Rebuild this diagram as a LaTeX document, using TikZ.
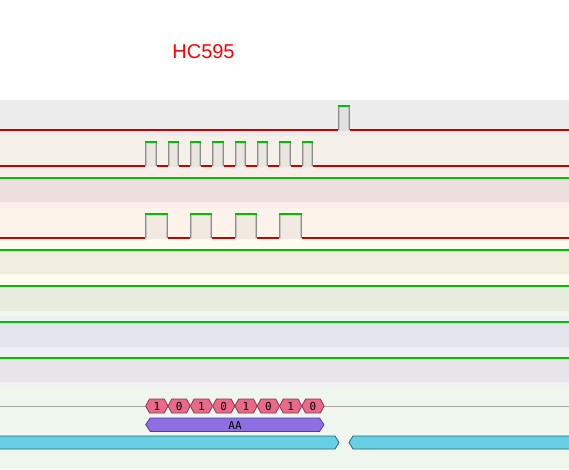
\documentclass[tikz,border=0pt]{standalone}
\usepackage{fontspec}
\setmainfont{Liberation Sans}
\newfontfamily\monofont{DejaVu Sans Mono}
\definecolor{sigred}{HTML}{C80000}
\definecolor{siggreen}{HTML}{00BE00}
\definecolor{edgegray}{HTML}{8C8C8C}
\definecolor{edgelight}{HTML}{C4C4C4}
\definecolor{hexfill}{HTML}{E8698A}
\definecolor{hexdraw}{HTML}{8A3552}
\definecolor{purfill}{HTML}{8E6FE2}
\definecolor{purdraw}{HTML}{4E3C9E}
\definecolor{cyfill}{HTML}{68D0E4}
\definecolor{cydraw}{HTML}{2C6676}
\definecolor{busline}{HTML}{A8A8A8}
\tikzset{
  lowline/.style={draw=sigred, line width=1.2pt},
  highline/.style={draw=siggreen, line width=1.2pt},
  hexcell/.style={fill=hexfill, draw=hexdraw, line width=0.8pt},
  purbar/.style={fill=purfill, draw=purdraw, line width=0.8pt},
  cybar/.style={fill=cyfill, draw=cydraw, line width=0.8pt},
  digit/.style={font=\monofont\fontsize{11}{12}\selectfont, inner sep=0pt, text=black},
  title/.style={font=\fontsize{20}{24}\selectfont, text=red, inner sep=0pt}
}
\newcommand{\mypulse}[5]{% x1, x2, ytop, ybot, fillcolor
  \fill[#5] (#1,#3) rectangle (#2,#4+0.7);
  \draw[edgelight, line width=1pt] (#1+1.5,#3) -- (#1+1.5,#4);
  \draw[edgelight, line width=1pt] (#2-1.5,#3) -- (#2-1.5,#4);
  \draw[edgegray, line width=1pt] (#1+0.5,#3) -- (#1+0.5,#4);
  \draw[edgegray, line width=1pt] (#2-0.5,#3) -- (#2-0.5,#4);
  \draw[highline] (#1,#3) -- (#2,#3);
}
\begin{document}
\begin{tikzpicture}[x=1pt,y=-1pt]
\useasboundingbox (0,0) rectangle (569,469);
\fill[white] (0,0) rectangle (569,469);
% row backgrounds
\fill[color={rgb,255:red,236;green,236;blue,236}] (0,100) rectangle (569,136);
\fill[color={rgb,255:red,245;green,240;blue,234}] (0,136) rectangle (569,172);
\fill[color={rgb,255:red,252;green,237;blue,235}] (0,171) rectangle (569,208);
\fill[color={rgb,255:red,238;green,223;blue,223}] (0,178) rectangle (569,202);
\fill[color={rgb,255:red,254;green,243;blue,234}] (0,208) rectangle (569,239);
\fill[color={rgb,255:red,254;green,252;blue,238}] (0,239) rectangle (569,280);
\fill[color={rgb,255:red,241;green,238;blue,224}] (0,250) rectangle (569,274);
\fill[color={rgb,255:red,242;green,248;blue,234}] (0,280) rectangle (569,316);
\fill[color={rgb,255:red,254;green,252;blue,238}] (0,280) rectangle (569,286);
\fill[color={rgb,255:red,231;green,236;blue,225}] (0,286) rectangle (569,311);
\fill[color={rgb,255:red,238;green,240;blue,246}] (0,316) rectangle (569,352);
\fill[color={rgb,255:red,227;green,230;blue,236}] (0,322) rectangle (569,347);
\fill[color={rgb,255:red,243;green,241;blue,245}] (0,352) rectangle (569,388);
\fill[color={rgb,255:red,232;green,229;blue,234}] (0,358) rectangle (569,382);
\fill[color={rgb,255:red,238;green,246;blue,238}] (0,388) rectangle (569,469);
% title
\node[title] (ttl) at (203.5,51.5) {HC595};
% row 1
\draw[lowline] (0,130) -- (338.3,130);
\draw[lowline] (349.5,130) -- (569,130);
\mypulse{338.3}{349.5}{106}{130}{color={rgb,255:red,226;green,226;blue,226}}
% row 2
\draw[lowline] (0,166) -- (569,166);
\foreach \k in {0,...,7}{
  \pgfmathsetmacro{\xa}{145.4+22.3*\k}
  \pgfmathsetmacro{\xb}{\xa+11.3}
  \mypulse{\xa}{\xb}{142}{166}{color={rgb,255:red,234;green,230;blue,223}}
}
% row 3
\draw[highline] (0,178) -- (569,178);
% row 4
\draw[lowline] (0,238) -- (569,238);
\foreach \k in {0,...,3}{
  \pgfmathsetmacro{\xa}{145.4+44.6*\k}
  \pgfmathsetmacro{\xb}{\xa+22.3}
  \mypulse{\xa}{\xb}{214}{238}{color={rgb,255:red,242;green,234;blue,224}}
}
% rows 5-8
\draw[highline] (0,250) -- (569,250);
\draw[highline] (0,286) -- (569,286);
\draw[highline] (0,322) -- (569,322);
\draw[highline] (0,358) -- (569,358);
% bus row
\coordinate (busL) at (0,406);
\coordinate (busR) at (569,406);
\coordinate (busA) at (145.7,406);
\coordinate (busB) at (324,406);
\draw[busline, line width=0.8pt] (busL) -- (busA);
\draw[busline, line width=0.8pt] (busB) -- (busR);
\foreach \b [count=\i from 0] in {1,0,1,0,1,0,1,0}{
  \pgfmathsetmacro{\xa}{145.7+22.3*\i}
  \pgfmathsetmacro{\xb}{\xa+22.3}
  \draw[hexcell] (\xa,406) -- (\xa+3.8,399) -- (\xb-3.8,399) -- (\xb,406) -- (\xb-3.8,413) -- (\xa+3.8,413) -- cycle;
  \node[digit] (d\i) at ({(\xa+\xb)/2},406.3) {\b};
}
% purple bar
\draw[purbar] (145.7,424.7) -- (150.2,418) -- (319.5,418) -- (324,424.7) -- (319.5,431.4) -- (150.2,431.4) -- cycle;
\node[digit] (aa) at (235,425) {AA};
% cyan bars
\draw[cybar] (-5,436) -- (335,436) -- (339,442.5) -- (335,449) -- (-5,449) -- cycle;
\draw[cybar] (575,436) -- (353,436) -- (349,442.5) -- (353,449) -- (575,449) -- cycle;
\end{tikzpicture}
\end{document}
